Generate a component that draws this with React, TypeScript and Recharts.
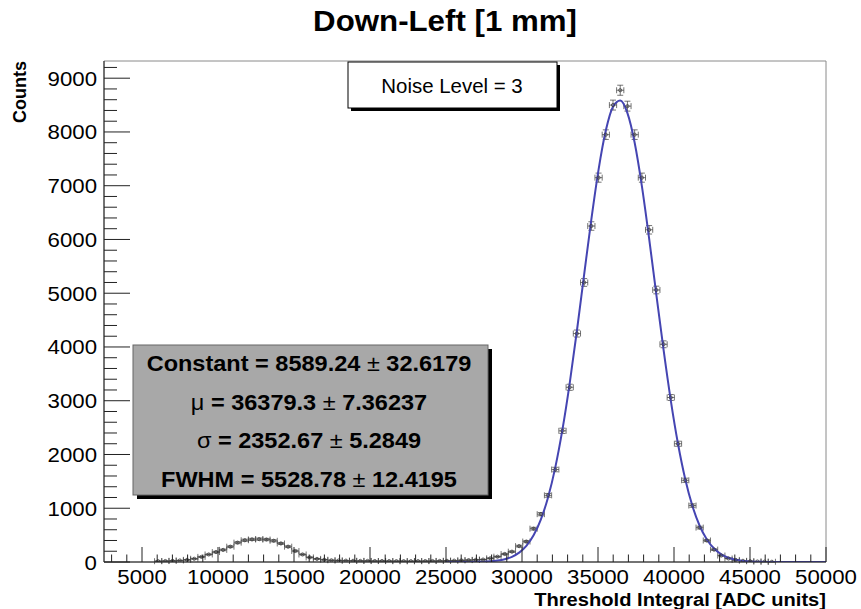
import { ComposedChart, XAxis, YAxis, Scatter, ErrorBar, Line, ReferenceArea } from "recharts";

const W = 861;
const H = 609;
const FONT = "'Liberation Sans', Arial, Helvetica, sans-serif";
// the reference canvas is a little stretched sideways, so is its lettering
const SX = 1.06;

// histogram binning: 100 bins from 2500 to 50000
const BIN_LO = 2500;
const BIN_W = 475;
const X_MAX = 50000;
const Y_MAX = 9320;

// bin contents, starting at bin #7 (earlier bins are empty)
const FIRST_BIN = 7;
const counts = [
  15, 18, 22, 28, 40, 60, 95, 140, 185, 225,
  285, 360, 405, 420, 425, 418, 395, 345, 285, 205,
  140, 85, 58, 42, 32, 28, 25, 22, 20, 20,
  18, 18, 17, 16, 16, 15, 16, 17, 18, 20,
  22, 25, 30, 35, 40, 45, 69, 99, 149, 192,
  295, 380, 620, 890, 1240, 1720, 2440, 3250, 4250, 5200,
  6250, 7150, 7950, 8500, 8776, 8480, 7950, 7150, 6180, 5060,
  4050, 3060, 2200, 1520, 1050, 640, 400, 230, 120, 65,
  38, 22, 14, 9, 6, 4,
];

// gaussian fit read at the bin centres, from bin #47 on
const FIT_FIRST_BIN = 47;
const fitValues = [
  0.1, 0.2, 0.5, 1.2, 2.9, 6.3, 13, 27, 52, 97,
  175, 301, 497, 789, 1201, 1756, 2466, 3324, 4302, 5344,
  6374, 7300, 8026, 8471, 8584, 8351, 7800, 6994, 6021, 4976,
  3949, 3008, 2200, 1545, 1041, 674, 419, 250, 143, 79,
  42, 21, 10, 4.8, 2.1, 0.9, 0.4, 0.1, 0, 0,
  0, 0, 0,
];

const xLabels = [5000, 10000, 15000, 20000, 25000, 30000, 35000, 40000, 45000, 50000];
const yLabels = [0, 1000, 2000, 3000, 4000, 5000, 6000, 7000, 8000, 9000];

const xTicks: number[] = [];
for (let v = 3000; v <= X_MAX; v += 1000) xTicks.push(v);
const yTicks: number[] = [];
for (let v = 0; v <= 9200; v += 200) yTicks.push(v);

const fitLines = [
  { name: "Constant", value: "8589.24", err: "32.6179", sym: false },
  { name: "\u03bc", value: "36379.3", err: "7.36237", sym: true },
  { name: "\u03c3", value: "2352.67", err: "5.2849", sym: true },
  { name: "FWHM", value: "5528.78", err: "12.4195", sym: false },
];

const center = (i: number) => BIN_LO + BIN_W * (i + 0.5);

const hist = counts.map((c, k) => ({
  x: center(FIRST_BIN + k),
  y: c,
  ex: BIN_W / 2,
  ey: Math.sqrt(c),
}));

const fit = [
  { x: 25000, f: 0.1 },
  ...fitValues.map((f, k) => ({ x: center(FIT_FIRST_BIN + k), f })),
  { x: X_MAX, f: 0 },
];

// text widened like the reference
function T({ x, y, rotate, children, ...rest }: any) {
  const r = rotate ? ` rotate(${rotate})` : "";
  return (
    <text transform={`translate(${x},${y}) scale(${SX},1)${r}`} fontFamily={FONT} fill="#000" {...rest}>
      {children}
    </text>
  );
}

function XTick({ x, y, payload }: any) {
  const v = payload.value;
  const major = xLabels.includes(v);
  return (
    <g>
      <line x1={x} x2={x} y1={y} y2={y - (major ? 15 : 7.5)} stroke="#222" />
      {major && (
        <T x={x} y={y + 21.5} textAnchor="middle" fontSize={21}>
          {v}
        </T>
      )}
    </g>
  );
}

function YTick({ x, y, payload }: any) {
  const v = payload.value;
  const major = yLabels.includes(v);
  return (
    <g>
      <line x1={x} x2={x + (major ? 26 : 13)} y1={y} y2={y} stroke="#222" />
      {major && (
        <T x={x - 7} y={y + 7.5} textAnchor="end" fontSize={21}>
          {v}
        </T>
      )}
    </g>
  );
}

function Marker(p: any) {
  return <circle cx={p.cx} cy={p.cy} r={1.6} fill="none" stroke="#3a3a3a" strokeWidth={0.8} />;
}

export default function App() {
  return (
    <div style={{ position: "absolute", left: 0, top: 0, width: W, height: H, background: "#fff" }}>
      <ComposedChart width={W} height={H} margin={{ top: 61, right: 35, bottom: 0, left: 0 }}>
        <XAxis
          type="number"
          dataKey="x"
          domain={[BIN_LO, X_MAX]}
          ticks={xTicks}
          interval={0}
          height={47}
          tickSize={0}
          tickMargin={0}
          tickLine={false}
          tick={XTick}
          axisLine={{ stroke: "#222" }}
          allowDataOverflow
        />
        <YAxis
          type="number"
          domain={[0, Y_MAX]}
          ticks={yTicks}
          interval={0}
          width={104}
          tickSize={0}
          tickMargin={0}
          tickLine={false}
          tick={YTick}
          axisLine={{ stroke: "#222" }}
          allowDataOverflow
        />
        <ReferenceArea x1={BIN_LO} x2={X_MAX} y1={0} y2={Y_MAX} fill="none" stroke="#8a8a8a" />
        <Scatter data={hist} dataKey="y" shape={Marker} isAnimationActive={false}>
          <ErrorBar dataKey="ex" direction="x" width={3} stroke="#3a3a3a" strokeWidth={0.7} />
          <ErrorBar dataKey="ey" direction="y" width={3} stroke="#3a3a3a" strokeWidth={0.7} />
        </Scatter>
        <Line
          data={fit}
          dataKey="f"
          type="monotone"
          dot={false}
          stroke="#4545b2"
          strokeWidth={2}
          isAnimationActive={false}
        />
      </ComposedChart>

      <svg width={W} height={H} style={{ position: "absolute", left: 0, top: 0, pointerEvents: "none" }}>
        <T x={445} y={31} textAnchor="middle" fontSize={29.5} fontWeight="bold">
          Down-Left [1 mm]
        </T>

        <T x={26} y={61} rotate={-90} textAnchor="end" fontSize={18} fontWeight="bold">
          Counts
        </T>
        <T x={826} y={605.5} textAnchor="end" fontSize={19} fontWeight="bold">
          Threshold Integral [ADC units]
        </T>

        {/* noise level pave */}
        <rect x={351} y={65} width={209} height={46} fill="#000" />
        <rect x={348} y={62} width={209} height={46} fill="#fff" stroke="#000" />
        <T x={452} y={92.5} textAnchor="middle" fontSize={19.3}>
          Noise Level = 3
        </T>

        {/* fit parameters pave */}
        <rect x={137} y={349} width={355} height={150} fill="#000" />
        <rect x={133} y={345} width={355} height={150} fill="#a8a8a8" stroke="#666" />
        {fitLines.map((l, i) => (
          <T key={l.name} x={309} y={371 + i * 38.5} textAnchor="middle" fontSize={22.2} fontWeight="bold">
            <tspan fontWeight={l.sym ? "normal" : "bold"}>{l.name}</tspan>
            {" = " + l.value + " "}
            <tspan fontWeight="normal">{"\u00b1"}</tspan>
            {" " + l.err}
          </T>
        ))}
      </svg>
    </div>
  );
}
